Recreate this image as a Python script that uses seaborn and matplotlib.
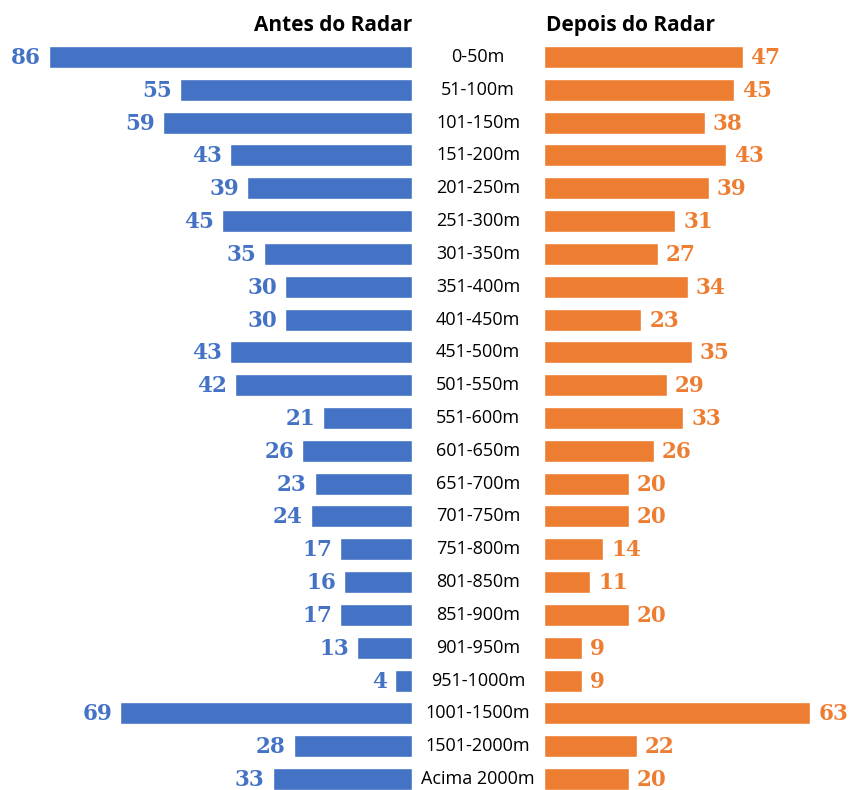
import matplotlib
matplotlib.use("Agg")
import matplotlib.pyplot as plt
import seaborn as sns
import pandas as pd

categories = ["0-50m", "51-100m", "101-150m", "151-200m", "201-250m", "251-300m",
              "301-350m", "351-400m", "401-450m", "451-500m", "501-550m", "551-600m",
              "601-650m", "651-700m", "701-750m", "751-800m", "801-850m", "851-900m",
              "901-950m", "951-1000m", "1001-1500m", "1501-2000m", "Acima 2000m"]
antes = [86, 55, 59, 43, 39, 45, 35, 30, 30, 43, 42, 21, 26, 23, 24, 17, 16, 17, 13, 4, 69, 28, 33]
depois = [47, 45, 38, 43, 39, 31, 27, 34, 23, 35, 29, 33, 26, 20, 20, 14, 11, 20, 9, 9, 63, 22, 20]
header_left = "Antes do Radar"
header_right = "Depois do Radar"

BLUE = "#4472C4"
ORANGE = "#ED7D31"

sns.set_theme(style="white")
plt.rcParams['font.family'] = ['Open Sans', 'DejaVu Sans']

W, H = 849, 790
fig = plt.figure(figsize=(W / 100, H / 100), dpi=100)
fig.patch.set_facecolor("white")

ppu = 4.225          # pixels per data unit
row0, step = 57.0, 32.82
left_end, right_start = 412, 544

ytop = -row0 / step
ybot = (H - row0) / step

ax_l = fig.add_axes([0, 0, left_end / W, 1])
ax_r = fig.add_axes([right_start / W, 0, (W - right_start) / W, 1])

df = pd.DataFrame({"cat": categories, "antes": antes, "depois": depois})

sns.barplot(data=df, y="cat", x="antes", color=BLUE, saturation=1, width=0.67,
            orient="h", ax=ax_l)
sns.barplot(data=df, y="cat", x="depois", color=ORANGE, saturation=1, width=0.67,
            orient="h", ax=ax_r)

ax_l.set_xlim(left_end / ppu, 0)
ax_r.set_xlim(0, (W - right_start) / ppu)
for ax in (ax_l, ax_r):
    ax.set_ylim(ybot, ytop)
    ax.axis("off")
    ax.patch.set_alpha(0)

val_font = dict(family="DejaVu Serif", fontweight="bold", fontsize=15.5)
off = 1.9
for i, (a, d, c) in enumerate(zip(antes, depois, categories)):
    ax_l.text(a + off, i + 0.03, str(a), ha="right", va="center", color=BLUE, **val_font)
    ax_r.text(d + off, i + 0.03, str(d), ha="left", va="center", color=ORANGE, **val_font)
    ax_r.text(-(right_start - 478) / ppu, i, c, ha="center", va="center",
              fontsize=13, color="black", clip_on=False)

ax_l.text(0, -0.97, header_left, ha="right", va="center", fontsize=15,
          fontweight="bold", color="black")
ax_r.text(0.4, -0.97, header_right, ha="left", va="center", fontsize=15,
          fontweight="bold", color="black")

fig.savefig("out.png", dpi=100, facecolor="white")
